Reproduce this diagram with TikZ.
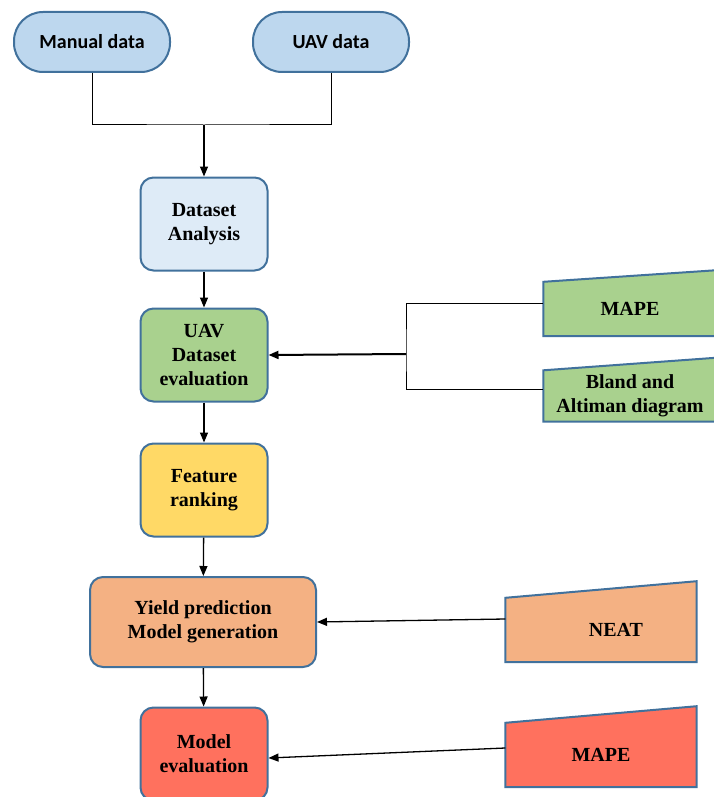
\documentclass[tikz,border=0pt]{standalone}
\usepackage{fontspec}
\setmainfont{Liberation Serif}
\newfontfamily\calibri{Carlito}
\usetikzlibrary{arrows.meta,backgrounds}
\definecolor{edgeblue}{HTML}{41719C}
\definecolor{srcblue}{HTML}{BDD7EE}
\definecolor{paleblue}{HTML}{DEEBF7}
\definecolor{leafgreen}{HTML}{A9D18E}
\definecolor{sunyellow}{HTML}{FFD966}
\definecolor{peach}{HTML}{F4B183}
\definecolor{salmon}{HTML}{FF715E}

\begin{document}
\begin{tikzpicture}[x=1pt,y=-1pt,%
  source/.style={draw=edgeblue, line width=2pt, rounded corners=29pt,
    minimum width=156pt, minimum height=60pt, font=\calibri\bfseries\fontsize{20}{24}\selectfont},
  stage/.style={draw=edgeblue, line width=2pt, rounded corners=13pt,
    minimum width=127pt, minimum height=93pt, align=center,
    font=\bfseries\fontsize{20}{24}\selectfont},
  input/.style={minimum width=#1, inner sep=0pt, align=center,
    font=\bfseries\fontsize{20}{24}\selectfont},
  link/.style={line width=1pt},
  arrow/.style={line width=1.3pt, -{Triangle[length=10pt,width=8pt]}}]
  \useasboundingbox (0,0) rectangle (713,797);

  \node[source, fill=srcblue] (manual) at (92,42) {Manual data};
  \node[source, fill=srcblue] (uavdata) at (331,42) {UAV data};

  \node[stage, fill=paleblue] (analysis) at (204,224) {Dataset\\Analysis};
  \node[stage, fill=leafgreen] (uaveval) at (204,355) {UAV\\Dataset\\evaluation};
  \node[stage, fill=sunyellow] (ranking) at (204,490) {Feature\\ranking};
  \node[stage, fill=peach, minimum width=226pt, minimum height=90pt] (yield) at (203,622)
    {Yield prediction\\Model generation};
  \node[stage, fill=salmon] (modeleval) at (204,754) {Model\\evaluation};

  \node[input=173pt, minimum height=54pt] (mape) at (630,309) {MAPE};
  \node[input=173pt, minimum height=51pt] (bland) at (630,396) {Bland and\\Altiman diagram};
  \node[input=191pt, minimum height=64pt] (neat) at (601,630) {\hspace*{30pt}NEAT};
  \node[input=191pt, minimum height=64pt] (mapetwo) at (601,755) {MAPE};

  \begin{scope}[on background layer]
    \draw[edgeblue, line width=2pt, fill=leafgreen] (mape.south west) -- (mape.south east)
      -- ([yshift=66pt]mape.south east) -- (mape.north west) -- cycle;
    \draw[edgeblue, line width=2pt, fill=leafgreen] (bland.south west) -- (bland.south east)
      -- ([yshift=64pt]bland.south east) -- (bland.north west) -- cycle;
    \draw[edgeblue, line width=2pt, fill=peach] (neat.south west) -- (neat.south east)
      -- ([yshift=81pt]neat.south east) -- (neat.north west) -- cycle;
    \draw[edgeblue, line width=2pt, fill=salmon] (mapetwo.south west) -- (mapetwo.south east)
      -- ([yshift=81pt]mapetwo.south east) -- (mapetwo.north west) -- cycle;
  \end{scope}

  \coordinate (join) at (204,125);
  \coordinate (fork) at (406,354);

  \draw[link] (manual.south) |- (join) -| (uavdata.south);
  \draw[arrow] (join) -- (analysis.north);
  \draw[arrow] (analysis) -- (uaveval);
  \draw[arrow] (uaveval) -- (ranking);
  \draw[arrow] (ranking) -- (yield);
  \draw[arrow] (yield) -- (modeleval);

  \draw[link] ([yshift=6pt]mape.west) -| (fork) |- ([yshift=7pt]bland.west);
  \draw[arrow, line width=2pt] (fork) -- (uaveval.east);
  \draw[arrow] ([yshift=11pt]neat.west) -- (yield.east);
  \draw[arrow] ([yshift=7pt]mapetwo.west) -- ([yshift=-4pt]modeleval.east);
\end{tikzpicture}
\end{document}
